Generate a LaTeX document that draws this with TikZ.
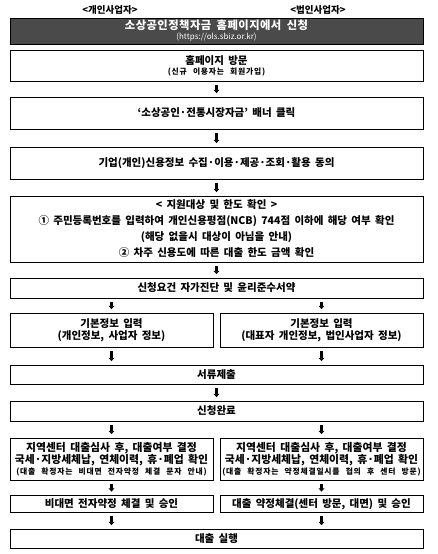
\documentclass[tikz,border=0pt]{standalone}
\usepackage{fontspec}
\setmainfont{Noto Sans CJK KR}
\newfontfamily\krfont[WordSpace=1.8]{Noto Sans CJK KR}
\newfontfamily\krsmall[WordSpace=2.4,LetterSpace=10]{Noto Sans CJK KR}
\newfontfamily\krtitle[WordSpace=1.8,LetterSpace=4]{Noto Sans CJK KR}
\usetikzlibrary{arrows.meta}
\definecolor{darkbox}{HTML}{4A4A4A}
\tikzset{
  box/.style={draw=black, line width=0.8pt, inner sep=1pt, align=center, font=\krfont\bfseries\fontsize{10.5}{13}\selectfont},
  darkbox/.style={box, fill=darkbox, text=white},
  arr/.style={line width=2.4pt, -{Triangle[width=5.5pt,length=3.2pt]}, shorten <=3.5pt, shorten >=3.5pt}
}
\newcommand{\sm}[1]{{\krsmall\bfseries\fontsize{7.8}{9}\selectfont #1}}
\begin{document}
\begin{tikzpicture}[x=1pt,y=-1pt]
\useasboundingbox (0,0) rectangle (438,554);
\node[font=\krfont\bfseries\fontsize{9.5}{10}\selectfont] (hl) at (110,10) {<개인사업자>};
\node[font=\krfont\bfseries\fontsize{9.5}{10}\selectfont] (hr) at (318,10) {<법인사업자>};
\node[darkbox, minimum width=413pt, minimum height=26pt, font=\krtitle\bfseries\fontsize{11.3}{11}\selectfont] (top) at (216.5,31)
  {소상공인정책자금 홈페이지에서 신청\\[-1pt]{\krfont\mdseries\fontsize{8}{8}\selectfont (https://ols.sbiz.or.kr)}};
\node[box, minimum width=413pt, minimum height=31pt] (b1) at (216.5,65.5)
  {홈페이지 방문\\[-3pt]\sm{(신규 이용자는 회원가입)}};
\node[box, minimum width=413pt, minimum height=32pt] (b2) at (216.5,113)
  {‘소상공인·전통시장자금’ 배너 클릭};
\node[box, minimum width=413pt, minimum height=32pt] (b3) at (216.5,163)
  {기업(개인)신용정보 수집·이용·제공·조회·활용 동의};
\node[box, minimum width=413pt, minimum height=66pt, font=\krfont\bfseries\fontsize{10.5}{16}\selectfont] (b4) at (216.5,229)
  {< 지원대상 및 한도 확인 >\\
   ① 주민등록번호를 입력하여 개인신용평점(NCB) 744점 이하에 해당 여부 확인\\
   (해당 없을시 대상이 아님을 안내)\\
   ② 차주 신용도에 따른 대출 한도 금액 확인};
\node[box, minimum width=413pt, minimum height=20pt] (b5) at (216.5,288)
  {신청요건 자가진단 및 윤리준수서약};
\node[box, minimum width=203pt, minimum height=34pt, font=\krfont\bfseries\fontsize{10.5}{12}\selectfont] (l1) at (111.5,330)
  {기본정보 입력\\(개인정보, 사업자 정보)};
\node[box, minimum width=203pt, minimum height=34pt, font=\krfont\bfseries\fontsize{10.5}{12}\selectfont] (r1) at (321.5,330)
  {기본정보 입력\\(대표자 개인정보, 법인사업자 정보)};
\node[box, minimum width=413pt, minimum height=19pt] (b6) at (216.5,374.5) {서류제출};
\node[box, minimum width=413pt, minimum height=20pt] (b7) at (216.5,411) {신청완료};
\node[box, minimum width=203pt, minimum height=42pt, font=\krfont\bfseries\fontsize{10.8}{12}\selectfont] (l2) at (111.5,459)
  {지역센터 대출심사 후, 대출여부 결정\\국세·지방세체납, 연체이력, 휴·폐업 확인\\[-1pt]\sm{(대출 확정자는 비대면 전자약정 체결 문자 안내)}};
\node[box, minimum width=203pt, minimum height=42pt, font=\krfont\bfseries\fontsize{10.8}{12}\selectfont] (r2) at (321.5,459)
  {지역센터 대출심사 후, 대출여부 결정\\국세·지방세체납, 연체이력, 휴·폐업 확인\\[-1pt]\sm{(대출 확정자는 약정체결일시를 협의 후 센터 방문)}};
\node[box, minimum width=203pt, minimum height=17pt] (l3) at (111.5,504) {비대면 전자약정 체결 및 승인};
\node[box, minimum width=203pt, minimum height=17pt] (r3) at (321.5,504) {대출 약정체결(센터 방문, 대면) 및 승인};
\node[box, minimum width=413pt, minimum height=19pt] (b8) at (216.5,538.5) {대출 실행};

\draw[arr] (b1) -- (b2);
\draw[arr] (b2) -- (b3);
\draw[arr] (b3) -- (b4);
\draw[arr] (b4) -- (b5);
\draw[arr] (b5.south -| l1.north) -- (l1.north);
\draw[arr] (b5.south -| r1.north) -- (r1.north);
\draw[arr] (l1.south) -- (b6.north -| l1.south);
\draw[arr] (r1.south) -- (b6.north -| r1.south);
\draw[arr] (b6) -- (b7);
\draw[arr] (b7.south -| l2.north) -- (l2.north);
\draw[arr] (b7.south -| r2.north) -- (r2.north);
\draw[arr] (l2) -- (l3);
\draw[arr] (r2) -- (r3);
\draw[arr] (l3.south) -- (b8.north -| l3.south);
\draw[arr] (r3.south) -- (b8.north -| r3.south);
\end{tikzpicture}
\end{document}
